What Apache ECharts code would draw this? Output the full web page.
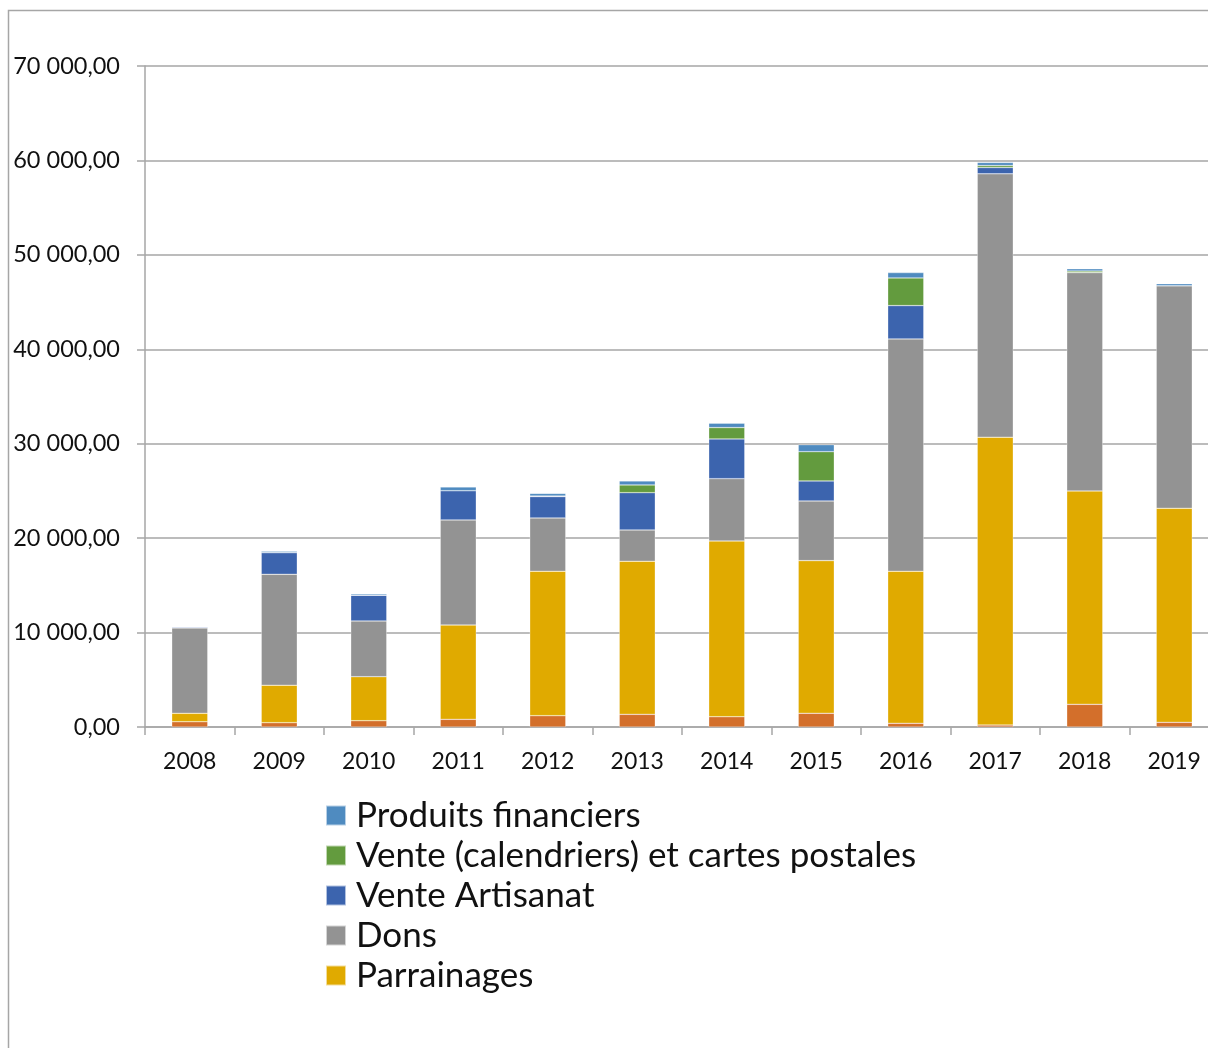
<!DOCTYPE html>
<html>
<head>
<meta charset="utf-8">
<script src="https://cdn.jsdelivr.net/npm/echarts@6/dist/echarts.min.js"></script>
<style>
html,body{margin:0;padding:0;background:#fff;}
#chart{width:1208px;height:1048px;}
</style>
</head>
<body>
<div id="chart"></div>
<script>
const years = ['2008','2009','2010','2011','2012','2013','2014','2015','2016','2017','2018','2019'];
const autres = [560, 460, 670, 810, 1200, 1340, 1090, 1450, 390, 210, 2400, 490];
const parrainages = [890, 3960, 4660, 9990, 15290, 16210, 18610, 16170, 16100, 30480, 22600, 22670];
const dons = [9040, 11750, 5900, 11130, 5650, 3320, 6600, 6320, 24610, 27890, 23120, 23560];
const venteArtisanat = [100, 2300, 2720, 3100, 2260, 3950, 4210, 2120, 3530, 670, 20, 20];
const venteCalendriers = [0, 0, 0, 0, 60, 820, 1200, 3100, 2930, 210, 150, 0];
const produitsFinanciers = [30, 140, 140, 390, 280, 420, 460, 740, 560, 320, 230, 210];
const yTicks = [0, 10000, 20000, 30000, 40000, 50000, 60000, 70000];

const legendNames = ['Produits financiers', 'Vente (calendriers) et cartes postales', 'Vente Artisanat', 'Dons', 'Parrainages'];

function fmt(v){
  const s = Math.round(v).toString().replace(/\B(?=(\d{3})+(?!\d))/g, ' ');
  return s + ',00';
}

const chart = echarts.init(document.getElementById('chart'));
const font = 'Lato, "Open Sans", sans-serif';
function bar(name, data, color){
  return {
    name: name, type: 'bar', stack: 'total', data: data, barWidth: 36,
    itemStyle: {color: color, borderColor: 'rgba(255,255,255,0.6)', borderWidth: 0.5},
    emphasis: {disabled: true}
  };
}
chart.setOption({
  animation: false,
  textStyle: {fontFamily: font},
  graphic: [{
    type: 'polyline',
    shape: {points: [[8.5, 1100], [8.5, 10.5], [1300, 10.5]]},
    style: {stroke: '#A6A6A6', lineWidth: 1.5, fill: null},
    silent: true
  }],
  grid: {left: 145, top: 66, width: 1074, height: 661, outerBoundsMode: 'none', containLabel: false},
  legend: {
    data: legendNames,
    orient: 'vertical',
    left: 325, top: 798, padding: 0,
    itemWidth: 20, itemHeight: 20, itemGap: 5,
    icon: 'rect',
    textStyle: {fontSize: 35, color: '#111', fontFamily: font, lineHeight: 35, padding: [0,0,0,5]},
    selectedMode: false
  },
  xAxis: {
    type: 'category', data: years,
    axisLine: {lineStyle: {color: '#A6A6A6', width: 1.5}},
    axisTick: {show: true, length: 8, lineStyle: {color: '#A6A6A6', width: 1.5}},
    axisLabel: {fontSize: 23, color: '#111', margin: 23, fontFamily: font}
  },
  yAxis: {
    type: 'value', min: 0, max: 70000, interval: 10000,
    axisLine: {show: true, lineStyle: {color: '#A6A6A6', width: 1.5}},
    axisTick: {show: true, length: 8, lineStyle: {color: '#A6A6A6', width: 1.5}},
    splitLine: {lineStyle: {color: '#A6A6A6', width: 1.5}},
    axisLabel: {fontSize: 23.5, color: '#111', margin: 25, fontFamily: font, formatter: fmt}
  },
  series: [
    bar('Autres', autres, '#D36F2B'),
    bar('Parrainages', parrainages, '#E0AA00'),
    bar('Dons', dons, '#939393'),
    bar('Vente Artisanat', venteArtisanat, '#3C64AE'),
    bar('Vente (calendriers) et cartes postales', venteCalendriers, '#639B3E'),
    bar('Produits financiers', produitsFinanciers, '#4F8BC0')
  ]
});
</script>
</body>
</html>
